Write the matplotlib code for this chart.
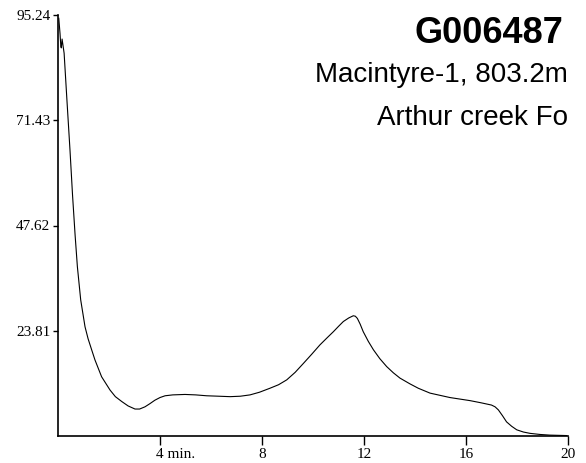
import matplotlib
matplotlib.use("Agg")
import matplotlib.pyplot as plt
import matplotlib.transforms as mtransforms

# Trace values (retention time in minutes, intensity)
time_min = [0.03, 0.08, 0.11, 0.13, 0.16, 0.19, 0.24, 0.35, 0.47, 0.57, 0.67,
            0.76, 0.89, 1.06, 1.18, 1.32, 1.45, 1.71, 2.04, 2.25, 2.50, 2.75,
            3.02, 3.20, 3.41, 3.60, 3.80, 4.00, 4.20, 4.50, 4.98, 5.40, 5.83,
            6.30, 6.75, 7.15, 7.53, 7.90, 8.31, 8.65, 8.97, 9.30, 9.62, 9.95,
            10.27, 10.55, 10.80, 11.00, 11.19, 11.40, 11.58, 11.66, 11.74,
            11.85, 11.97, 12.17, 12.37, 12.62, 12.89, 13.15, 13.41, 13.80,
            14.13, 14.59, 15.37, 16.16, 16.60, 17.00, 17.14, 17.27, 17.43,
            17.59, 17.79, 17.99, 18.25, 18.51, 18.90, 19.29, 19.95]
intensity = [94.5, 91.0, 88.2, 87.8, 89.8, 88.6, 86.6, 76.0, 64.7, 54.5, 45.5,
             38.3, 30.8, 24.7, 22.0, 19.5, 17.2, 13.4, 10.4, 8.9, 7.8, 6.8,
             6.1, 6.1, 6.6, 7.3, 8.1, 8.7, 9.1, 9.3, 9.4, 9.3, 9.1,
             9.0, 8.9, 9.0, 9.3, 9.9, 10.8, 11.6, 12.7, 14.4, 16.4, 18.5,
             20.6, 22.2, 23.6, 24.8, 25.9, 26.7, 27.2, 27.1, 26.6,
             25.3, 23.6, 21.4, 19.5, 17.5, 15.7, 14.3, 13.1, 11.8,
             10.8, 9.7, 8.7, 8.0, 7.5, 7.0, 6.6, 5.9, 4.6,
             3.2, 2.2, 1.4, 0.9, 0.6, 0.35, 0.2, 0.1]

y_ticks = [23.81, 47.62, 71.43, 95.24]
x_ticks = [4, 8, 12, 16, 20]
x_labels = ["4 min.", "8", "12", "16", "20"]

sample_id = "G006487"
well_depth = "Macintyre-1, 803.2m"
formation = "Arthur creek Fo"

fig = plt.figure(figsize=(5.86, 4.63), dpi=100)
ax = fig.add_axes([58 / 586, 27 / 463, 510 / 586, 421 / 463])

ax.plot(time_min, intensity, color="black", linewidth=0.8,
        solid_joinstyle="round")

ax.set_xlim(0, 20)
ax.set_ylim(0, 95.24)
ax.set_xticks(x_ticks)
ax.set_xticklabels(x_labels)
ax.set_yticks(y_ticks)
ax.set_yticklabels([f"{v:.2f}" for v in y_ticks])

for side in ["top", "right"]:
    ax.spines[side].set_visible(False)
for side in ["left", "bottom"]:
    ax.spines[side].set_linewidth(1.2)

ax.tick_params(axis="x", length=6.5, width=1, pad=2, labelsize=11)
ax.tick_params(axis="y", length=3.5, width=1, pad=2, labelsize=11)
for lab in ax.get_xticklabels() + ax.get_yticklabels():
    lab.set_family("Liberation Serif")

# keep the "4" of "4 min." centred on its tick
first = ax.get_xticklabels()[0]
first.set_horizontalalignment("left")
first.set_transform(first.get_transform() +
                    mtransforms.ScaledTranslation(-3.5 / 100, 0, fig.dpi_scale_trans))

fig.text(563 / 586, 1 - 43 / 463, sample_id, ha="right", va="baseline",
         fontsize=26, fontweight="bold", family="Liberation Sans")
fig.text(568 / 586, 1 - 82 / 463, well_depth, ha="right", va="baseline",
         fontsize=20, family="Liberation Sans")
fig.text(568 / 586, 1 - 125 / 463, formation, ha="right", va="baseline",
         fontsize=20, family="Liberation Sans")

fig.savefig("out.png", dpi=100)
